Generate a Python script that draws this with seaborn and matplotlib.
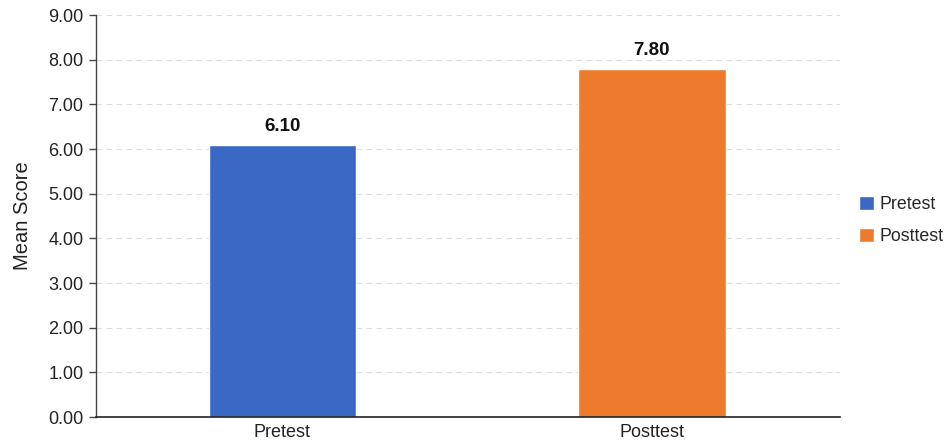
import matplotlib
matplotlib.use("Agg")
import matplotlib.pyplot as plt
import seaborn as sns
import pandas as pd

# Mean scores before and after the intervention
groups = ["Pretest", "Posttest"]
mean_scores = [6.10, 7.80]
value_labels = ["6.10", "7.80"]
y_ticks = [0, 1, 2, 3, 4, 5, 6, 7, 8, 9]

palette = {"Pretest": "#3A68C4", "Posttest": "#EE7A2B"}

df = pd.DataFrame({"Group": groups, "Mean Score": mean_scores})

sns.set_theme(style="white")
plt.rcParams["font.family"] = ["Liberation Sans", "DejaVu Sans"]

fig = plt.figure(figsize=(9.47, 4.43), dpi=100)
ax = fig.add_axes([96 / 947, 26 / 443, 744 / 947, 402 / 443])

sns.barplot(data=df, x="Group", y="Mean Score", hue="Group", order=groups,
            hue_order=groups, palette=palette, width=0.4, dodge=False,
            saturation=1, legend=True, ax=ax)

ax.set_ylim(0, 9)
ax.set_xlim(-0.505, 1.51)
ax.set_yticks(y_ticks)
ax.set_yticklabels([f"{v:.2f}" for v in y_ticks], fontsize=13, color="#222222")
ax.tick_params(axis="x", labelsize=13, length=0, pad=5, colors="#222222")
ax.tick_params(axis="y", length=5, width=1, color="#444444", left=True, pad=4)
ax.set_xlabel("")
ax.set_ylabel("Mean Score", fontsize=14.5, color="#222222", labelpad=12)

ax.yaxis.grid(True, linestyle=(0, (5, 4)), color="#dddddd", linewidth=0.8)
ax.set_axisbelow(True)
for side in ["top", "right"]:
    ax.spines[side].set_visible(False)
ax.spines["left"].set_color("#444444")
ax.spines["bottom"].set_color("#222222")
ax.spines["left"].set_linewidth(1)
ax.spines["bottom"].set_linewidth(1.2)

for cont, lab in zip(ax.containers, value_labels):
    ax.bar_label(cont, labels=[lab], padding=7, fontsize=13.5,
                 fontweight="bold", color="#111111")

leg = ax.legend(loc="center left", bbox_to_anchor=(1.026, 0.488),
                bbox_transform=ax.transAxes, frameon=False,
                borderaxespad=0, borderpad=0,
                fontsize=12.8, handlelength=0.8, handleheight=0.8,
                handletextpad=0.35, labelspacing=0.85)

fig.savefig("out.png", dpi=100, facecolor="white")
